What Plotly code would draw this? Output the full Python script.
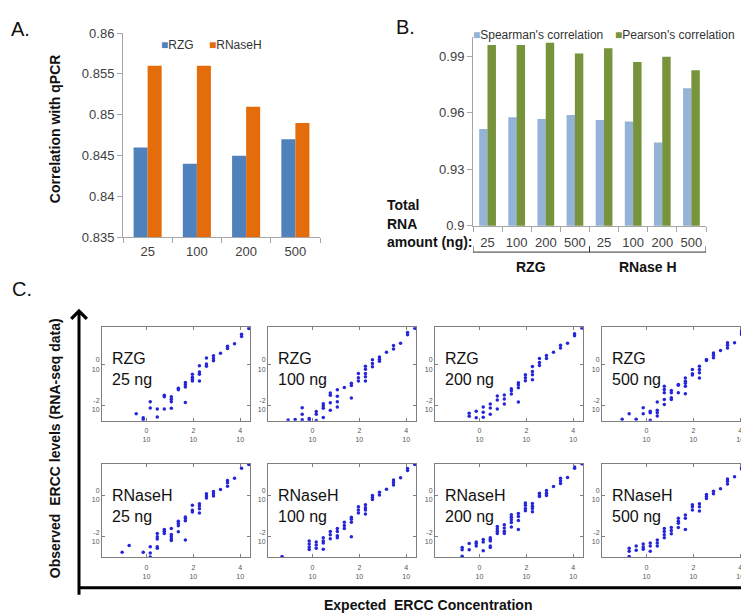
import plotly.graph_objects as go

W, H = 749, 616
FONT = "Arial, Liberation Sans, sans-serif"

# ---------------- Panel A data ----------------
a_categories = ["25", "100", "200", "500"]
a_rzg = [0.846, 0.844, 0.845, 0.847]
a_rnaseh = [0.856, 0.856, 0.851, 0.849]
a_yticks = [0.835, 0.84, 0.845, 0.85, 0.855, 0.86]
a_yticklabels = ["0.835", "0.84", "0.845", "0.85", "0.855", "0.86"]
a_names = ["RZG", "RNaseH"]
a_colors = ["#4f81bd", "#e46c0a"]

# ---------------- Panel B data ----------------
b_amounts = ["25", "100", "200", "500", "25", "100", "200", "500"]
b_groups = ["RZG", "RNase H"]
b_spearman = [0.9514, 0.9576, 0.9567, 0.9588, 0.9562, 0.9554, 0.9442, 0.9730]
b_pearson = [0.9960, 0.9960, 0.9972, 0.9915, 0.9943, 0.9869, 0.9897, 0.9826]
b_yticks = [0.9, 0.93, 0.96, 0.99]
b_yticklabels = ["0.9", "0.93", "0.96", "0.99"]
b_names = ["Spearman's correlation", "Pearson's correlation"]
b_colors = ["#95b3d7", "#77933c"]

# ---------------- Panel C data (log10 expected vs log10 observed) ----------------
rzg25_x = [-0.44, -0.14, -0.14, 0.16, 0.16, 0.46, 0.46, 0.76, 0.76, 0.76,
           1.06, 1.06, 1.06, 1.06, 1.36, 1.36, 1.66, 1.66, 1.66, 1.66,
           1.96, 1.96, 1.96, 1.96, 2.26, 2.26, 2.26, 2.26, 2.56, 2.56,
           2.56, 2.86, 2.86, 2.86, 3.16, 3.46, 3.46, 3.76, 4.06, 4.06, 4.37]
rzg25_y = [-2.43, -2.62, -2.71, -1.84, -2.14, -2.19, -2.59, -1.52, -1.59, -2.19,
           -1.59, -1.71, -1.84, -2.16, -1.17, -1.24, -0.89, -1.00, -1.11, -1.87,
           -0.48, -0.63, -0.73, -0.81, -0.06, -0.37, -0.48, -0.81, 0.32, 0.03,
           -0.08, 0.43, 0.30, 0.19, 0.56, 0.90, 0.79, 1.03, 1.49, 1.38, 1.78]

rzg100_x = [-1.04, -0.74, -0.44, -0.44, -0.44, -0.14, -0.14, 0.16, 0.16, 0.16,
            0.46, 0.46, 0.46, 0.46, 0.76, 0.76, 0.76, 0.76, 1.06, 1.06,
            1.06, 1.06, 1.36, 1.66, 1.66, 1.66, 1.96, 1.96, 1.96, 2.26,
            2.26, 2.26, 2.26, 2.26, 2.56, 2.56, 2.56, 2.86, 2.86, 2.86,
            3.16, 3.46, 3.46, 3.76, 4.06, 4.06, 4.37]
rzg100_y = [-2.74, -2.71, -2.13, -2.45, -2.73, -2.66, -2.74, -2.32, -2.45, -2.76,
            -1.94, -2.05, -2.16, -2.61, -1.40, -1.52, -1.89, -2.26, -1.24, -1.56,
            -1.84, -2.10, -1.13, -0.92, -1.03, -1.65, -0.44, -0.65, -0.81, -0.08,
            -0.23, -0.44, -0.60, -0.81, 0.24, 0.05, -0.11, 0.37, 0.26, 0.16,
            0.61, 0.94, 0.77, 1.05, 1.58, 1.47, 1.79]

rzg200_x = [-0.44, -0.44, -0.14, -0.14, 0.16, 0.16, 0.16, 0.46, 0.46, 0.46,
            0.76, 0.76, 0.76, 1.06, 1.06, 1.06, 1.36, 1.36, 1.36, 1.66,
            1.66, 1.66, 1.66, 1.96, 1.96, 1.96, 2.26, 2.26, 2.26, 2.26,
            2.56, 2.56, 2.56, 2.86, 2.86, 3.16, 3.46, 3.46, 3.76, 4.06,
            4.06, 4.37]
rzg200_y = [-2.55, -2.40, -2.62, -2.30, -2.10, -2.35, -2.60, -1.95, -2.15, -2.45,
            -1.55, -1.75, -2.20, -1.50, -1.70, -1.95, -1.20, -1.30, -1.45, -0.90,
            -1.00, -1.15, -1.85, -0.50, -0.65, -0.80, -0.10, -0.35, -0.50, -0.75,
            0.30, 0.10, -0.05, 0.45, 0.30, 0.60, 0.95, 0.82, 1.05, 1.52,
            1.42, 1.80]

rzg500_x = [-1.04, -0.74, -0.44, -0.14, -0.14, 0.16, 0.16, 0.16, 0.46, 0.46,
            0.46, 0.46, 0.76, 0.76, 0.76, 0.76, 0.76, 1.06, 1.06, 1.06,
            1.06, 1.36, 1.36, 1.36, 1.66, 1.66, 1.66, 1.66, 1.66, 1.96,
            1.96, 1.96, 2.26, 2.26, 2.26, 2.26, 2.56, 2.56, 2.86, 2.86,
            2.86, 3.16, 3.46, 3.46, 3.46, 3.76, 4.06, 4.06, 4.06, 4.37]
rzg500_y = [-2.70, -2.43, -2.70, -2.13, -2.43, -2.30, -2.38, -2.75, -1.85, -2.26,
            -2.38, -2.54, -1.07, -1.23, -1.39, -1.72, -1.97, -1.28, -1.39, -1.64,
            -1.72, -0.98, -1.02, -1.39, -0.66, -0.82, -0.93, -1.07, -1.44, -0.25,
            -0.46, -0.52, -0.08, -0.25, -0.41, -0.66, 0.25, 0.20, 0.57, 0.46,
            0.33, 0.69, 1.07, 0.95, 0.82, 1.07, 1.67, 1.56, 1.48, 1.80]

rnaseh25_x = [-1.04, -0.74, -0.14, 0.16, 0.16, 0.16, 0.46, 0.46, 0.46, 0.46,
              0.46, 0.76, 0.76, 0.76, 1.06, 1.06, 1.06, 1.06, 1.06, 1.36,
              1.36, 1.36, 1.36, 1.66, 1.66, 1.66, 1.66, 1.96, 1.96, 1.96,
              2.26, 2.26, 2.26, 2.26, 2.56, 2.56, 2.56, 2.86, 2.86, 2.86,
              3.16, 3.46, 3.46, 3.46, 3.76, 4.06, 4.37]
rnaseh25_y = [-2.75, -2.42, -2.75, -2.48, -2.78, -2.98, -1.84, -2.00, -2.11, -2.48,
              -2.56, -1.65, -1.73, -1.84, -1.60, -1.89, -2.00, -2.11, -2.18, -1.25,
              -1.36, -1.47, -1.76, -1.04, -1.12, -1.23, -2.16, -0.48, -0.72, -0.80,
              -0.40, -0.51, -0.64, -0.85, 0.08, -0.03, -0.13, 0.19, 0.08, -0.03,
              0.29, 0.72, 0.61, 0.45, 0.83, 1.31, 1.50]

rnaseh100_x = [-1.30, -0.14, -0.14, -0.14, -0.14, 0.16, 0.16, 0.16, 0.46, 0.46,
               0.46, 0.46, 0.76, 0.76, 0.76, 1.06, 1.06, 1.06, 1.06, 1.36,
               1.36, 1.36, 1.66, 1.66, 1.66, 1.66, 1.96, 1.96, 1.96, 2.26,
               2.26, 2.26, 2.26, 2.56, 2.56, 2.56, 2.86, 2.86, 3.16, 3.46,
               3.46, 3.46, 3.76, 4.06, 4.06, 4.37]
rnaseh100_y = [-2.95, -2.20, -2.35, -2.50, -2.62, -2.25, -2.40, -2.55, -2.05, -2.20,
               -2.30, -2.60, -1.75, -1.90, -2.10, -1.60, -1.75, -1.95, -2.05, -1.30,
               -1.45, -1.60, -1.05, -1.15, -1.30, -2.00, -0.55, -0.70, -0.85, -0.45,
               -0.60, -0.70, -0.90, 0.00, -0.10, -0.20, 0.15, 0.02, 0.30, 0.75,
               0.62, 0.50, 0.85, 1.30, 1.20, 1.50]

rnaseh200_x = [-0.74, -0.74, -0.74, -0.44, -0.44, -0.14, -0.14, -0.14, 0.16, 0.16,
               0.16, 0.46, 0.46, 0.46, 0.46, 0.46, 0.76, 0.76, 0.76, 0.76,
               1.06, 1.06, 1.06, 1.06, 1.36, 1.36, 1.36, 1.36, 1.36, 1.66,
               1.66, 1.66, 1.66, 1.96, 1.96, 1.96, 1.96, 2.26, 2.26, 2.26,
               2.26, 2.56, 2.56, 2.56, 2.86, 2.86, 2.86, 3.16, 3.46, 3.46,
               3.46, 3.76, 4.06, 4.06, 4.37]
rnaseh200_y = [-2.52, -2.63, -2.94, -2.33, -2.63, -2.25, -2.33, -2.44, -2.13, -2.25,
               -2.68, -2.05, -2.13, -2.20, -2.44, -2.52, -1.50, -1.62, -1.73, -1.84,
               -1.42, -1.57, -1.73, -1.84, -0.94, -1.06, -1.18, -1.31, -1.53, -0.87,
               -1.02, -1.21, -1.65, -0.36, -0.47, -0.63, -0.74, -0.39, -0.52, -0.63,
               -0.79, 0.11, 0.00, -0.05, 0.24, 0.11, 0.00, 0.43, 0.83, 0.71,
               0.58, 0.87, 1.37, 1.31, 1.53]

rnaseh500_x = [-0.74, -0.74, -0.74, -0.44, -0.44, -0.14, -0.14, -0.14, 0.16, 0.16,
               0.16, 0.46, 0.46, 0.46, 0.76, 0.76, 0.76, 0.76, 1.06, 1.06,
               1.06, 1.36, 1.36, 1.36, 1.36, 1.66, 1.66, 1.66, 1.96, 1.96,
               1.96, 2.26, 2.26, 2.26, 2.56, 2.56, 2.56, 2.86, 2.86, 3.16,
               3.46, 3.46, 3.46, 3.76, 4.06, 4.06, 4.37]
rnaseh500_y = [-2.55, -2.70, -2.95, -2.45, -2.65, -2.35, -2.50, -2.60, -2.30, -2.45,
               -2.70, -2.15, -2.30, -2.45, -1.60, -1.75, -1.90, -2.05, -1.55, -1.70,
               -1.85, -1.10, -1.25, -1.35, -1.55, -0.95, -1.10, -1.65, -0.45, -0.55,
               -0.70, -0.40, -0.55, -0.75, 0.05, -0.05, -0.15, 0.20, 0.08, 0.32,
               0.80, 0.68, 0.55, 0.90, 1.38, 1.28, 1.52]

panel_titles = ["RZG<br>25 ng", "RZG<br>100 ng", "RZG<br>200 ng", "RZG<br>500 ng",
                "RNaseH<br>25 ng", "RNaseH<br>100 ng", "RNaseH<br>200 ng", "RNaseH<br>500 ng"]
panel_x = [rzg25_x, rzg100_x, rzg200_x, rzg500_x, rnaseh25_x, rnaseh100_x, rnaseh200_x, rnaseh500_x]
panel_y = [rzg25_y, rzg100_y, rzg200_y, rzg500_y, rnaseh25_y, rnaseh100_y, rnaseh200_y, rnaseh500_y]
c_xticks = [0, 2, 4]
c_yticks = [-2, 0]

for xs, ys in zip(panel_x, panel_y):
    assert len(xs) == len(ys), (len(xs), len(ys))


def fx(p):
    return p / W


def fy(p):
    return 1 - p / H


def note(x, y, text, size, color="#111", xanchor="center", yanchor="middle", **kw):
    d = dict(xref="paper", yref="paper", x=fx(x), y=fy(y), text=text, showarrow=False,
             xanchor=xanchor, yanchor=yanchor, font=dict(size=size, color=color))
    d.update(kw)
    return d


fig = go.Figure()
layout = dict(
    width=W, height=H, autosize=False,
    margin=dict(l=0, r=0, t=0, b=0),
    paper_bgcolor="white", plot_bgcolor="white",
    font=dict(family=FONT, color="#222"),
    showlegend=False,
    barmode="group",
)

AXC = "#a6a6a6"
TICKC = "#404040"

# ---------------- Panel A ----------------
for name, vals, col in zip(a_names, [a_rzg, a_rnaseh], a_colors):
    fig.add_trace(go.Bar(x=a_categories, y=vals, name=name, marker_color=col,
                         marker_line_width=0, xaxis="x", yaxis="y"))
layout["xaxis"] = dict(domain=[fx(115), fx(312)], anchor="y", type="category",
                       tickson="boundaries", ticks="outside", ticklen=5, tickcolor=AXC,
                       showline=True, linecolor=AXC, showgrid=False,
                       tickfont=dict(size=13, color=TICKC), ticklabelstandoff=2)
layout["yaxis"] = dict(domain=[fy(228), fy(18.5)], anchor="x", range=[0.835, 0.86],
                       tickvals=a_yticks, ticktext=a_yticklabels, ticks="outside",
                       ticklen=5, tickcolor=AXC, showline=True, linecolor=AXC,
                       showgrid=False, zeroline=False,
                       tickfont=dict(size=13, color=TICKC))
layout["bargap"] = 0.43

# ---------------- Panel B ----------------
b_index = list(range(len(b_amounts)))
for name, vals, col in zip(b_names, [b_spearman, b_pearson], b_colors):
    fig.add_trace(go.Bar(x=b_index, y=vals, name=name, marker_color=col,
                         marker_line_width=0, xaxis="x2", yaxis="y2", width=0.29))
layout["xaxis2"] = dict(domain=[fx(465), fx(698)], anchor="y2", range=[-0.5, 7.5],
                        tickvals=b_index, ticktext=b_amounts, ticks="",
                        minor=dict(tickvals=[i - 0.5 for i in range(len(b_amounts) + 1)],
                                   ticks="outside", ticklen=5, tickcolor=AXC),
                        showline=True, linecolor=AXC, showgrid=False, zeroline=False,
                        tickfont=dict(size=13, color=TICKC), ticklabelstandoff=5)
layout["yaxis2"] = dict(domain=[fy(216), fy(23)], anchor="x2", range=[0.9, 1.0],
                        tickvals=b_yticks, ticktext=b_yticklabels, ticks="outside",
                        ticklen=5, tickcolor=AXC, showline=True, linecolor=AXC,
                        showgrid=False, zeroline=False,
                        tickfont=dict(size=13, color=TICKC))

annotations = []
shapes = []

# legends (drawn as text entries)
annotations.append(note(151, 31, f"<span style='color:{a_colors[0]}'>■</span>{a_names[0]}",
                        12, "#333", xanchor="left"))
annotations.append(note(199, 31, f"<span style='color:{a_colors[1]}'>■</span>{a_names[1]}",
                        12, "#333", xanchor="left"))
annotations.append(note(463, 20, f"<span style='color:{b_colors[0]}'>■</span>{b_names[0]}",
                        12, "#333", xanchor="left"))
annotations.append(note(605, 20, f"<span style='color:{b_colors[1]}'>■</span>{b_names[1]}",
                        12, "#333", xanchor="left"))

# panel letters
for txt, x, y in [("A.", 1, 14), ("B.", 386, 12), ("C.", 2, 281)]:
    annotations.append(note(x, y, txt, 20, "#111", xanchor="left"))

# A y-title
annotations.append(note(47, 117, "<b>Correlation with qPCR</b>", 14, textangle=-90))

# B x-title block
for txt, y in [("Total", 195), ("RNA", 214), ("amount (ng):", 233)]:
    annotations.append(note(377, y, f"<b>{txt}</b>", 14, xanchor="left"))
# group bracket
shapes.append(dict(type="line", xref="x2", yref="paper", x0=-0.5, x1=7.5,
                   y0=fy(243), y1=fy(243), line=dict(color="#333", width=1)))
for xv in [-0.5, 3.5, 7.5]:
    shapes.append(dict(type="line", xref="x2", yref="paper", x0=xv, x1=xv,
                       y0=fy(243), y1=fy(237), line=dict(color="#333", width=1)))
for g, xv in zip(b_groups, [1.5, 5.5]):
    annotations.append(dict(xref="x2", yref="paper", x=xv, y=fy(258), showarrow=False,
                            xanchor="center", yanchor="middle",
                            text=f"<b>{g}</b>", font=dict(size=14, color="#111")))

# ---------------- Panel C ----------------
col_left = [94, 260, 427, 594]
panel_w = 148
row_top = [320, 460]
panel_h = 96
c_xrange = [-1.9, 4.42]
c_yranges = [[-2.78, 1.84], [-3.0, 1.53]]
FR = "#7f7f7f"
for i in range(8):
    r, c = divmod(i, 4)
    n = i + 3
    xa, ya = f"x{n}", f"y{n}"
    fig.add_trace(go.Scatter(x=panel_x[i], y=panel_y[i], mode="markers",
                             marker=dict(size=3.5, color="#2525d9"),
                             xaxis=xa, yaxis=ya))
    left, top = col_left[c], row_top[r]
    layout[f"xaxis{n}"] = dict(domain=[fx(left), fx(left + panel_w)], anchor=ya,
                               range=c_xrange, tickvals=c_xticks,
                               ticktext=[f"{t}<br>10" for t in c_xticks],
                               ticks="inside", ticklen=3, tickcolor=FR, mirror="ticks",
                               showline=True, linecolor=FR, linewidth=1,
                               showgrid=False, zeroline=False,
                               tickfont=dict(size=7, color="#555"), ticklabelstandoff=3)
    layout[f"yaxis{n}"] = dict(domain=[fy(top + panel_h), fy(top)], anchor=xa,
                               range=c_yranges[r], tickvals=c_yticks,
                               ticktext=[f"{t}<br>10" for t in c_yticks],
                               ticks="inside", ticklen=3, tickcolor=FR, mirror="ticks",
                               showline=True, linecolor=FR, linewidth=1,
                               showgrid=False, zeroline=False,
                               tickfont=dict(size=7, color="#555"))
    annotations.append(note(left + 8, top + 43, panel_titles[i], 16, "#111",
                            xanchor="left", align="left"))

# big axis arrows
annotations.append(dict(xref="paper", yref="paper", x=fx(71), y=fy(301), ax=0, ay=287.5,
                        text="", showarrow=True, arrowhead=4, arrowsize=1,
                        arrowwidth=3, arrowcolor="black", standoff=0, startstandoff=0))
annotations.append(dict(xref="paper", yref="paper", x=fx(746), y=fy(587), ax=-676.5, ay=0,
                        text="", showarrow=True, arrowhead=4, arrowsize=1,
                        arrowwidth=3, arrowcolor="black", standoff=0, startstandoff=0))
annotations.append(note(47, 444, "<b>Observed  ERCC levels (RNA-seq data)</b>", 14,
                        textangle=-90))
annotations.append(note(420, 605, "<b>Expected  ERCC Concentration</b>", 14))

layout["annotations"] = annotations
layout["shapes"] = shapes
fig.update_layout(**layout)
fig.write_html("out.html")
